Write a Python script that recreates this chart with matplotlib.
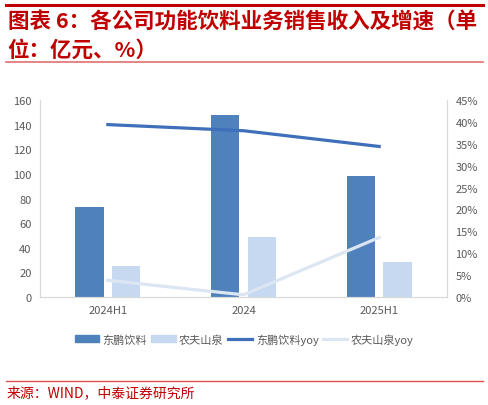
import matplotlib
matplotlib.use("Agg")
import numpy as np
import matplotlib.pyplot as plt
from matplotlib.lines import Line2D
from matplotlib.patches import Patch
from matplotlib.ticker import PercentFormatter

plt.rcParams['font.family'] = ['Noto Sans CJK SC', 'DejaVu Sans']

# data
categories = ["2024H1", "2024", "2025H1"]
dongpeng_rev = [73, 148, 98]
nongfu_rev = [25, 49, 28.5]
dongpeng_yoy = [39.4, 38.0, 34.4]
nongfu_yoy = [3.8, 0.5, 13.6]

DARK = "#4f81bd"
LIGHT = "#c6d9f1"
DARK_LINE = "#3f6fbb"
LIGHT_LINE = "#dce6f2"
GREY = "#595959"
RED = "#c00000"

fig = plt.figure(figsize=(4.88, 4.06), dpi=100)

# title block
fig.add_artist(Line2D([0.012, 0.99], [0.984, 0.984], color=RED, lw=2.2))
fig.text(0.016, 0.945, "图表 6：各公司功能饮料业务销售收入及增速（单",
         color=RED, fontsize=15.5, fontweight="bold", va="center", ha="left")
fig.text(0.016, 0.876, "位：亿元、%）",
         color=RED, fontsize=15.5, fontweight="bold", va="center", ha="left")
fig.add_artist(Line2D([0.012, 0.99], [0.846, 0.846], color="#e07070", lw=1.2))

ax = fig.add_axes([0.082, 0.266, 0.834, 0.485])
x = np.arange(len(categories))
w = 0.21
ax.bar(x - 0.135, dongpeng_rev, w, color=DARK, zorder=2)
ax.bar(x + 0.135, nongfu_rev, w, color=LIGHT, zorder=2)
ax.set_xlim(-0.5, 2.5)
ax.set_ylim(0, 160)
ax.set_yticks(np.arange(0, 161, 20))
ax.set_xticks(x)
ax.set_xticklabels(categories)
ax.tick_params(axis="both", length=0, labelsize=8, colors=GREY, pad=6)
ax.spines["top"].set_visible(False)
for side in ["left", "right", "bottom"]:
    ax.spines[side].set_color("#d9d9d9")
    ax.spines[side].set_linewidth(0.8)

ax2 = ax.twinx()
ax2.plot(x, dongpeng_yoy, color=DARK_LINE, lw=2.3, zorder=3)
ax2.plot(x, nongfu_yoy, color=LIGHT_LINE, lw=2.3, zorder=3)
ax2.set_ylim(0, 45)
ax2.set_yticks(np.arange(0, 46, 5))
ax2.yaxis.set_major_formatter(PercentFormatter(decimals=0))
ax2.tick_params(axis="y", length=0, labelsize=8, colors=GREY, pad=6)
ax2.spines["top"].set_visible(False)
for side in ["left", "right", "bottom"]:
    ax2.spines[side].set_color("#d9d9d9")
    ax2.spines[side].set_linewidth(0.8)

handles = [
    Patch(color=DARK), Patch(color=LIGHT),
    Line2D([], [], color=DARK_LINE, lw=2.3),
    Line2D([], [], color=LIGHT_LINE, lw=2.3),
]
labels = ["东鹏饮料", "农夫山泉", "东鹏饮料yoy", "农夫山泉yoy"]
leg = fig.legend(handles, labels, loc="center", bbox_to_anchor=(0.5, 0.163),
                 ncol=4, frameon=False, fontsize=8, handlelength=2.2,
                 handleheight=0.6, handletextpad=0.3, columnspacing=0.4)
for t in leg.get_texts():
    t.set_color(GREY)

# source block
fig.add_artist(Line2D([0.012, 0.99], [0.059, 0.059], color="#e05050", lw=1.0))
fig.text(0.014, 0.032, "来源：WIND，中泰证券研究所", color=RED, fontsize=10,
         va="center", ha="left")

fig.savefig("out.png", dpi=100)
